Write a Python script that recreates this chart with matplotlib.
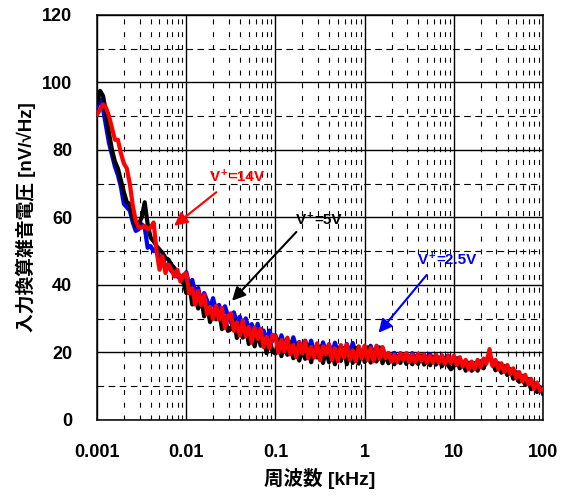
import matplotlib
matplotlib.use('Agg')
import matplotlib.pyplot as plt
from matplotlib.ticker import FixedLocator, MultipleLocator, NullFormatter

plt.rcParams['font.family'] = ['Liberation Sans', 'Noto Sans CJK JP', 'DejaVu Sans']
plt.rcParams['font.weight'] = 'bold'

# sample points inside one decade, and the decades that were measured [kHz]
mant = [1.000, 1.080, 1.166, 1.259, 1.359, 1.468, 1.585, 1.711, 1.848, 1.995,
        2.154, 2.326, 2.512, 2.712, 2.929, 3.162, 3.415, 3.687, 3.981, 4.299,
        4.642, 5.012, 5.412, 5.843, 6.310, 6.813, 7.356, 7.943, 8.577, 9.261]
decades = [0.001, 0.01, 0.1, 1, 10]
freq = [m * d for d in decades for m in mant] + [100]

# V+ = 2.5V  [nV/rtHz]
noise_25 = [93, 95, 92, 87, 82, 78.5, 75, 72.5, 69, 64,
            63, 62, 58.5, 56, 56.5, 58, 57, 51, 51.5, 50,
            50.5, 48, 48.5, 45, 46, 44, 44.5, 42.5, 42, 40.5,
            43.8, 39.8, 41.5, 37.8, 39.1, 34.8, 37.6, 35.4, 33.1, 36.1,
            32.3, 34.1, 30.5, 33.7, 30.9, 28.9, 31.9, 28.8, 30.6, 27.1,
            30.1, 27.0, 28.4, 24.9, 28.5, 24.8, 26.5, 23.4, 26.5, 23.4,
            25.1, 22.1, 25.1, 22.1, 24.1, 21.0, 24.5, 21.6, 23.1, 20.4,
            23.5, 20.6, 23.5, 20.2, 22.1, 19.7, 23.0, 20.1, 22.4, 19.6,
            22.9, 20.1, 22.1, 19.3, 22.5, 19.7, 22.8, 19.5, 21.7, 19.3,
            21.7, 19.2, 22.0, 19.0, 21.7, 19.3, 21.4, 18.7, 19.8, 17.9,
            19.9, 18.1, 19.8, 17.8, 19.5, 17.9, 19.8, 18.0, 19.6, 17.6,
            19.4, 17.7, 19.5, 17.7, 19.3, 17.5, 19.1, 17.3, 19.1, 17.4,
            16.6, 18.3, 15.8, 17.3, 15.1, 17.0, 14.7, 16.8, 15.2, 17.4,
            15.5, 17.9, 19.7, 16.3, 15.3, 16.8, 14.4, 15.9, 13.5, 15.0,
            12.7, 14.2, 11.5, 13.0, 10.7, 12.1, 9.4, 10.9, 8.5, 9.8,
            7.8]

# V+ = 5V
noise_5 = [94, 97.5, 96, 91, 85, 80, 76.5, 74.5, 71, 67.5,
           64.5, 64, 60, 57.5, 58, 60, 64.5, 58, 54, 53,
           51.5, 50.5, 49.5, 48, 47.5, 46, 45, 43.5, 42.5, 41,
           37.6, 40.3, 34.2, 36.8, 33.0, 36.3, 30.7, 34.0, 29.0, 32.4,
           29.8, 32.4, 26.9, 30.4, 26.4, 26.9, 29.6, 24.3, 28.2, 24.4,
           27.7, 22.5, 25.4, 21.8, 26.1, 22.0, 24.6, 19.8, 24.0, 20.2,
           19.7, 23.7, 18.9, 22.3, 19.3, 23.1, 18.3, 22.1, 17.6, 20.8,
           18.1, 22.0, 17.1, 21.1, 18.5, 21.8, 16.9, 21.0, 17.1, 20.1,
           16.5, 21.2, 17.5, 21.3, 16.5, 20.1, 16.9, 21.4, 16.7, 20.4,
           17.2, 21.5, 17.0, 20.8, 17.3, 21.5, 16.8, 19.5, 16.8, 19.1,
           16.5, 18.7, 16.9, 19.1, 16.6, 18.7, 16.5, 18.7, 16.6, 19.1,
           16.4, 18.4, 16.2, 18.7, 16.4, 18.4, 15.9, 18.4, 16.3, 15.0,
           16.0, 18.0, 15.3, 17.2, 14.6, 16.8, 14.6, 16.8, 14.6, 17.2,
           15.3, 17.8, 18.3, 17.6, 14.7, 16.5, 14.0, 15.9, 13.3, 15.0,
           12.2, 13.9, 11.3, 13.1, 10.4, 12.0, 9.1, 10.8, 8.3, 9.7,
           7.9]

# V+ = 14V
noise_14 = [90.5, 92, 93.5, 92.5, 90, 86.5, 83, 83, 79, 76,
            74.5, 70, 63.5, 59, 57, 57, 57.5, 56.5, 57, 58.5,
            50, 44.5, 48.5, 43.5, 46, 44.5, 42.5, 44.5, 41, 43,
            43.5, 37.5, 39, 34.2, 38.2, 34, 37.1, 31.3, 33.5, 29.9,
            33.8, 29.7, 33.2, 27.3, 30.8, 31.6, 26.4, 28.9, 25.0, 29.5,
            24.8, 27.6, 22.9, 27.4, 24.0, 27.0, 21.6, 24.6, 21.2, 25.2,
            24.8, 19.9, 23.7, 20.2, 24.4, 19.4, 22.2, 18.6, 23.0, 19.7,
            23.3, 18.3, 21.6, 18.5, 22.7, 17.7, 21.8, 19.5, 22.4, 17.7,
            21.2, 17.4, 22.1, 18.5, 22.4, 17.8, 20.6, 17.4, 21.8, 18.2,
            22.0, 17.8, 21.3, 17.4, 22.0, 18.1, 21.6, 18.3, 19.9, 17.3,
            19.3, 17.1, 19.7, 17.8, 19.8, 17.1, 19.4, 17.1, 19.6, 17.5,
            19.4, 16.9, 19.0, 17.0, 19.3, 17.0, 19.0, 16.6, 19.0, 16.9,
            19.1, 16.3, 18.6, 15.8, 17.8, 15.0, 17.3, 15.1, 17.8, 15.6,
            18.2, 16.7, 21.0, 16.0, 17.8, 14.9, 16.8, 14.2, 16.3, 13.6,
            15.3, 12.3, 14.2, 11.4, 13.4, 10.6, 12.2, 9.2, 11.1, 8.6,
            9.2]

fig = plt.figure(figsize=(5.68, 4.97), dpi=100)
ax = fig.add_axes([0.171, 0.155, 0.785, 0.815])

ax.plot(freq, noise_25, color='#0000ff', lw=3.0, zorder=3)
ax.plot(freq, noise_5, color='black', lw=3.0, zorder=4)
ax.plot(freq, noise_14, color='#ff0000', lw=3.0, zorder=5)

ax.set_xscale('log')
ax.set_xlim(0.001, 100)
ax.set_ylim(0, 120)

ax.xaxis.set_major_locator(FixedLocator([0.001, 0.01, 0.1, 1, 10, 100]))
ax.set_xticklabels(['0.001', '0.01', '0.1', '1', '10', '100'])
minor_x = [m * d for d in decades for m in range(2, 10)]
ax.xaxis.set_minor_locator(FixedLocator(minor_x))
ax.xaxis.set_minor_formatter(NullFormatter())
ax.yaxis.set_major_locator(MultipleLocator(20))
ax.yaxis.set_minor_locator(MultipleLocator(10))

ax.grid(which='major', color='black', lw=1.0, zorder=1)
ax.grid(which='minor', axis='x', color='black', lw=0.8, ls=(0, (4.5, 7)), zorder=1)
ax.grid(which='minor', axis='y', color='black', lw=0.8, ls=(0, (6, 4)), zorder=1)

ax.tick_params(which='both', length=0)
ax.tick_params(axis='y', labelsize=13, pad=18)
ax.tick_params(axis='x', labelsize=13, pad=17)
for lab in ax.get_xticklabels() + ax.get_yticklabels():
    lab.set_fontweight('bold')
for sp in ax.spines.values():
    sp.set_linewidth(1.1)

ax.set_xlabel('周波数 [kHz]', fontsize=14, fontweight='bold', labelpad=5)
ax.set_ylabel('入力換算雑音電圧 [nV/√Hz]', fontsize=13.5, fontweight='bold', labelpad=4)


def supply_label(x, y, rest, color):
    # "V", raised "+", then the rest, chained on each other's boxes
    t1 = ax.text(x, y, 'V', color=color, fontsize=11, fontweight='bold',
                 ha='left', va='baseline', zorder=6)
    t2 = ax.annotate('+', xy=(1, 0.42), xycoords=t1, xytext=(0.2, 0),
                     textcoords='offset points', color=color, fontsize=8,
                     fontweight='bold', ha='left', va='bottom', zorder=6)
    ax.annotate(rest, xy=(1, 0), xycoords=(t2, t1), xytext=(0.6, 0),
                textcoords='offset points', color=color, fontsize=11,
                fontweight='bold', ha='left', va='bottom', zorder=6)


arrow = dict(arrowstyle='-|>', lw=1.5, mutation_scale=20)
ax.annotate('', xy=(0.0069, 57), xytext=(0.023, 68),
            arrowprops=dict(arrow, color='#ff0000'), zorder=6)
supply_label(0.0185, 70.8, '=14V', '#ff0000')
ax.annotate('', xy=(0.031, 34.7), xytext=(0.18, 56.3),
            arrowprops=dict(arrow, color='black'), zorder=6)
supply_label(0.170, 58.1, '=5V', 'black')
ax.annotate('', xy=(1.37, 25.2), xytext=(5.2, 43.6),
            arrowprops=dict(arrow, color='#0000ff'), zorder=6)
supply_label(3.97, 46.2, '=2.5V', '#0000ff')

fig.savefig('out.png', dpi=100)
